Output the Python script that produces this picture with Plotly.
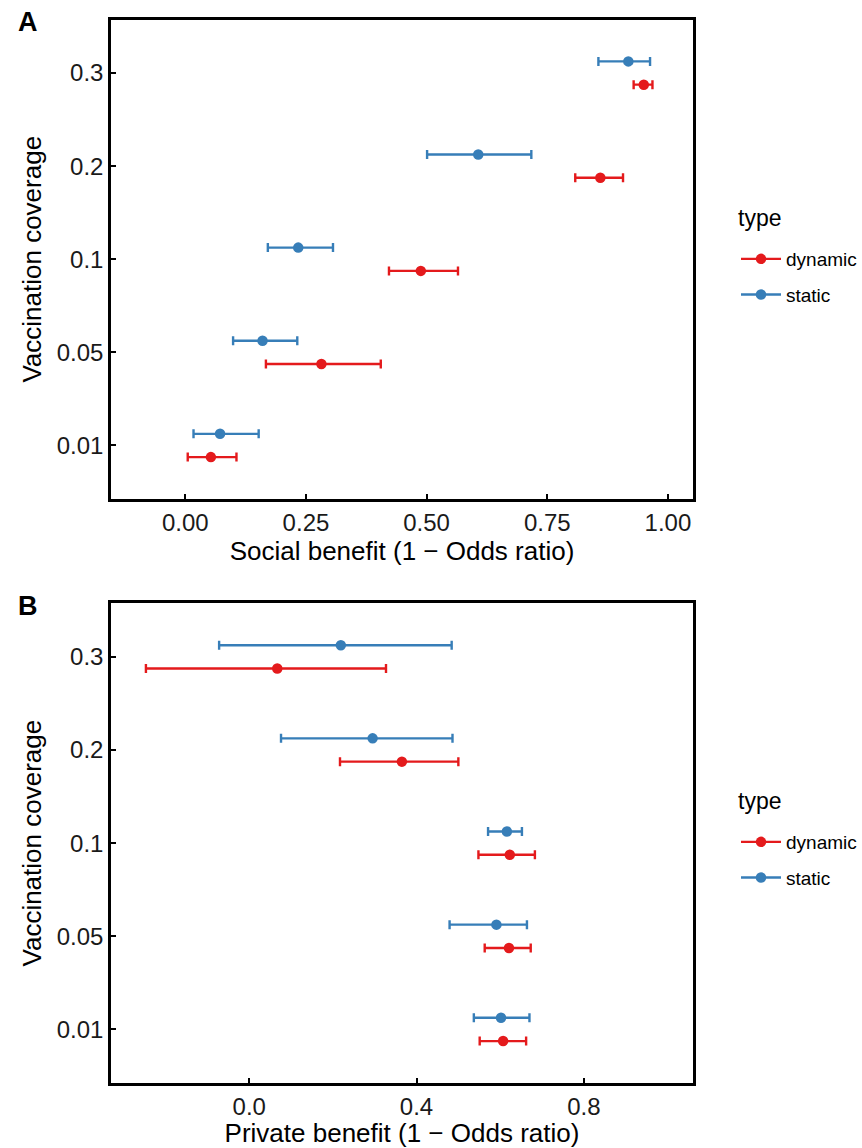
import plotly.graph_objects as go

# Vaccination coverage levels (categorical y axis, bottom to top)
coverage = ["0.01", "0.05", "0.1", "0.2", "0.3"]

# Panel A: social benefit (1 - odds ratio), estimate with lower / upper bounds
social_dynamic = [0.053, 0.282, 0.488, 0.860, 0.950]
social_dynamic_lo = [0.005, 0.167, 0.422, 0.808, 0.929]
social_dynamic_hi = [0.106, 0.405, 0.565, 0.907, 0.968]

social_static = [0.072, 0.160, 0.234, 0.607, 0.918]
social_static_lo = [0.017, 0.099, 0.171, 0.501, 0.856]
social_static_hi = [0.152, 0.232, 0.306, 0.717, 0.963]

# Panel B: private benefit (1 - odds ratio)
private_dynamic = [0.607, 0.621, 0.623, 0.365, 0.067]
private_dynamic_lo = [0.551, 0.563, 0.548, 0.217, -0.247]
private_dynamic_hi = [0.662, 0.673, 0.683, 0.500, 0.327]

private_static = [0.602, 0.591, 0.616, 0.295, 0.219]
private_static_lo = [0.537, 0.479, 0.571, 0.076, -0.072]
private_static_hi = [0.670, 0.664, 0.652, 0.486, 0.484]

RED = "#E41A1C"
BLUE = "#377EB8"
FONT = "Liberation Sans, Arial, sans-serif"
DODGE = 0.125

W, H = 862, 1148
positions = list(range(1, len(coverage) + 1))

fig = go.Figure()


def add_series(est, lo, hi, color, offset, xa, ya):
    fig.add_trace(go.Scatter(
        x=est,
        y=[p + offset for p in positions],
        mode="markers",
        marker=dict(color=color, size=10.5),
        error_x=dict(
            type="data", symmetric=False,
            array=[h - e for h, e in zip(hi, est)],
            arrayminus=[e - l for e, l in zip(est, lo)],
            color=color, thickness=2.4, width=4.5,
        ),
        xaxis=xa, yaxis=ya, showlegend=False, hoverinfo="x+y",
    ))


add_series(social_dynamic, social_dynamic_lo, social_dynamic_hi, RED, -DODGE, "x", "y")
add_series(social_static, social_static_lo, social_static_hi, BLUE, DODGE, "x", "y")
add_series(private_dynamic, private_dynamic_lo, private_dynamic_hi, RED, -DODGE, "x2", "y2")
add_series(private_static, private_static_lo, private_static_hi, BLUE, DODGE, "x2", "y2")

# legend keys (line with a dot), one legend per panel
for leg in ("legend", "legend2"):
    for name, color in (("dynamic", RED), ("static", BLUE)):
        fig.add_trace(go.Scatter(
            x=[None], y=[None], mode="lines+markers", name=name,
            line=dict(color=color, width=2.4), marker=dict(color=color, size=10.5),
            legend=leg, legendgroup=leg + name,
            xaxis="x" if leg == "legend" else "x2",
            yaxis="y" if leg == "legend" else "y2",
        ))

# plot-area geometry in pixels
x0, x1 = 111, 693
a_top, a_bot = 19.5, 499
b_top, b_bot = 603.3, 1083

axis_common = dict(
    showline=True, linecolor="black", linewidth=2.5, mirror=True,
    ticks="inside", ticklen=5, tickwidth=1.5, tickcolor="black",
    showgrid=False, zeroline=False, automargin=False,
    tickfont=dict(family=FONT, size=24, color="#1a1a1a"),
)
title_font = dict(family=FONT, size=26, color="black")

legend_common = dict(
    x=736 / W, xanchor="left", yanchor="top",
    font=dict(family=FONT, size=19, color="black"),
    traceorder="grouped", tracegroupgap=8, itemwidth=40,
    bgcolor="rgba(0,0,0,0)",
)

fig.update_layout(
    width=W, height=H,
    margin=dict(l=0, r=0, t=0, b=0),
    paper_bgcolor="white", plot_bgcolor="white",
    xaxis=dict(
        domain=[x0 / W, x1 / W], anchor="y", range=[-0.154, 1.052],
        tickvals=[0, 0.25, 0.5, 0.75, 1.0],
        ticktext=["0.00", "0.25", "0.50", "0.75", "1.00"],
        title=dict(text="Social benefit (1 \u2212 Odds ratio)", font=title_font, standoff=4),
        **axis_common,
    ),
    yaxis=dict(
        domain=[1 - a_bot / H, 1 - a_top / H], anchor="x", range=[0.425, 5.575],
        tickvals=positions, ticktext=coverage,
        title=dict(text="Vaccination coverage", font=title_font, standoff=8),
        **axis_common,
    ),
    xaxis2=dict(
        domain=[x0 / W, x1 / W], anchor="y2", range=[-0.3305, 1.061],
        tickvals=[0.0, 0.4, 0.8], ticktext=["0.0", "0.4", "0.8"],
        title=dict(text="Private benefit (1 \u2212 Odds ratio)", font=title_font, standoff=4),
        **axis_common,
    ),
    yaxis2=dict(
        domain=[1 - b_bot / H, 1 - b_top / H], anchor="x2", range=[0.425, 5.575],
        tickvals=positions, ticktext=coverage,
        title=dict(text="Vaccination coverage", font=title_font, standoff=8),
        **axis_common,
    ),
    legend=dict(y=1 - 240 / H, **legend_common),
    legend2=dict(y=1 - 823 / H, **legend_common),
    annotations=[
        dict(text="<b>A</b>", x=28 / W, y=1 - 22 / H, xref="paper", yref="paper",
             xanchor="center", yanchor="middle", showarrow=False,
             font=dict(family=FONT, size=27, color="black")),
        dict(text="<b>B</b>", x=28 / W, y=1 - 606 / H, xref="paper", yref="paper",
             xanchor="center", yanchor="middle", showarrow=False,
             font=dict(family=FONT, size=27, color="black")),
        # legend titles
        dict(text="type", x=736 / W, y=1 - 218 / H, xref="paper", yref="paper",
             xanchor="left", yanchor="middle", showarrow=False,
             font=dict(family=FONT, size=23, color="black")),
        dict(text="type", x=736 / W, y=1 - 801 / H, xref="paper", yref="paper",
             xanchor="left", yanchor="middle", showarrow=False,
             font=dict(family=FONT, size=23, color="black")),
    ],
)

fig.write_html("out.html")
